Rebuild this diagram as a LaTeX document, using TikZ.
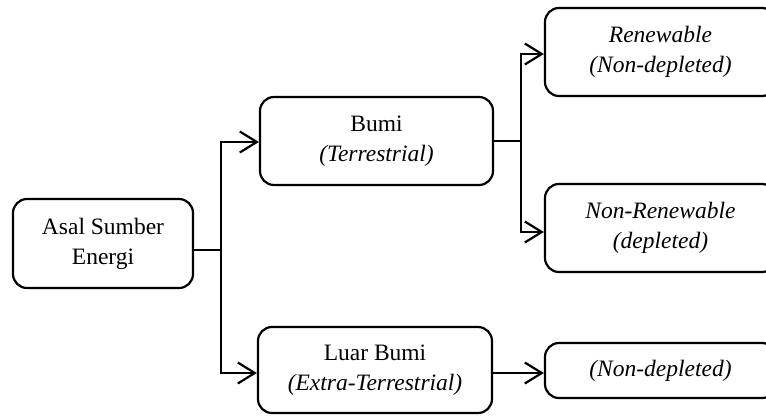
\documentclass[tikz,border=0pt]{standalone}
\usepackage{fontspec}
\setmainfont{Liberation Serif}
\usetikzlibrary{arrows.meta,calc}

\tikzset{
  box/.style={draw, line width=2.2pt, rounded corners=14pt, align=center,
    inner sep=0pt, font=\fontsize{23.5}{30}\selectfont},
  link/.style={line width=2.2pt},
  arrowlink/.style={link, -{Straight Barb[length=17pt,width=21pt,line width=2.2pt]}}
}

\begin{document}
\begin{tikzpicture}[x=1pt, y=-1pt]
  \useasboundingbox (0,0) rectangle (766,416);
  \clip (0,0) rectangle (766,416);

  % boxes
  \node[box, minimum width=180pt, minimum height=89pt] (asal) at (103,243.5)
    {Asal Sumber\\Energi};
  \node[box, minimum width=233pt, minimum height=88pt] (bumi) at (376.5,141)
    {Bumi\\\textit{(Terrestrial)}};
  \node[box, minimum width=234pt, minimum height=86pt] (luar) at (375,370)
    {Luar Bumi\\\textit{(Extra-Terrestrial)}};
  \node[box, minimum width=231pt, minimum height=88pt] (renew) at (660.5,52)
    {\textit{Renewable}\\\textit{(Non-depleted)}};
  \node[box, minimum width=231pt, minimum height=88pt] (nonrenew) at (660.5,228)
    {\textit{Non-Renewable}\\\textit{(depleted)}};
  \node[box, minimum width=231pt, minimum height=55pt] (nondep) at (660.5,370.5)
    {\textit{(Non-depleted)}};

  % branch points
  \coordinate (j1) at (221,250);
  \coordinate (j2) at (521,141);
  \coordinate (j3) at ($(luar.east)+(0,3)$);

  % connectors
  \draw[link] ($(asal.east)+(0,6.5)$) -- (j1);
  \draw[arrowlink] (j1) |- ($(bumi.west)+(0,1)$);
  \draw[arrowlink] (j1) |- ($(luar.west)+(0,3)$);
  \draw[link] (bumi.east) -- (j2);
  \draw[arrowlink] (j2) |- ($(renew.west)+(0,2)$);
  \draw[arrowlink] (j2) |- ($(nonrenew.west)+(0,4)$);
  \draw[arrowlink] (j3) -- (j3 -| nondep.west);
\end{tikzpicture}
\end{document}
